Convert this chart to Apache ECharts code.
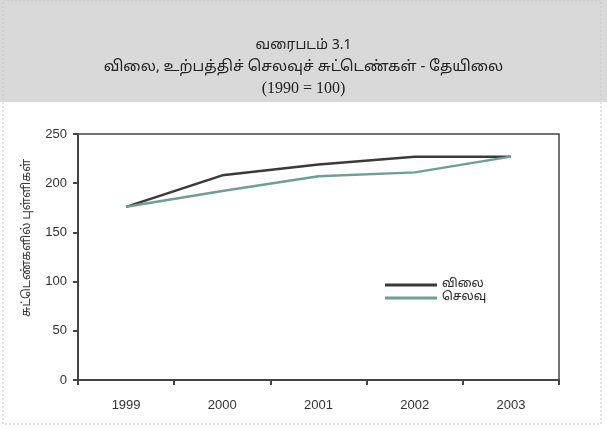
<!DOCTYPE html>
<html>
<head>
<meta charset="utf-8">
<script src="https://cdn.jsdelivr.net/npm/echarts@6/dist/echarts.min.js"></script>
<style>html,body{margin:0;padding:0;background:#fff}#c{width:607px;height:432px}</style>
</head>
<body>
<div id="c"></div>
<script>
var titleLines = ['வரைபடம் 3.1', 'விலை, உற்பத்திச் செலவுச் சுட்டெண்கள் - தேயிலை', '(1990 = 100)'];
var yAxisName = 'சுட்டெண்களில் புள்ளிகள்';
var categories = ['1999', '2000', '2001', '2002', '2003'];
var seriesNames = ['விலை', 'செலவு'];
var priceValues = [176, 208, 219, 227, 227];
var costValues = [176, 192, 207, 211, 227];
var yTicks = [0, 50, 100, 150, 200, 250];

var chart = echarts.init(document.getElementById('c'));
var tamilFont = '"Noto Sans Tamil", "Lohit Tamil", "Noto Serif Tamil", "DejaVu Serif", serif';
chart.setOption({
  backgroundColor: '#ffffff',
  animation: false,
  graphic: [
    { type: 'rect', shape: { x: 0, y: 0, width: 607, height: 102 }, style: { fill: '#d9d9d9' }, z: -10 },
    { type: 'rect', shape: { x: 3, y: 0, width: 598, height: 424 }, style: { fill: 'none', stroke: '#c8c8c8', lineWidth: 1, lineDash: [2, 2] }, z: -9 },
    { type: 'text', left: 'center', top: 39, style: { text: titleLines[0], font: '14px ' + tamilFont, fill: '#222' } },
    { type: 'text', left: 'center', top: 60, style: { text: titleLines[1], font: '15px ' + tamilFont, fill: '#222' } },
    { type: 'text', left: 'center', top: 81, style: { text: titleLines[2], font: '16px "Liberation Serif", serif', fill: '#222' } },
    { type: 'text', x: 28, y: 238, rotation: Math.PI / 2, style: { text: yAxisName, font: '12px ' + tamilFont, fill: '#333', align: 'center', verticalAlign: 'middle' } }
  ],
  legend: {
    orient: 'vertical',
    left: 380,
    top: 274,
    itemWidth: 52,
    itemHeight: 3,
    itemGap: 1,
    icon: 'rect',
    textStyle: { fontFamily: tamilFont, fontSize: 12, color: '#222' },
    data: seriesNames
  },
  grid: {
    left: 78, right: 48, top: 134, bottom: 52,
    show: true, borderColor: '#444', borderWidth: 1.5, backgroundColor: 'transparent'
  },
  xAxis: {
    type: 'category',
    data: categories,
    boundaryGap: true,
    axisLine: { lineStyle: { color: '#444', width: 2 } },
    axisTick: { show: true, length: 5, lineStyle: { color: '#444', width: 2 } },
    axisLabel: { margin: 19, fontFamily: 'Liberation Sans, Arial, sans-serif', fontSize: 13, color: '#333' },
    splitLine: { show: false }
  },
  yAxis: {
    type: 'value',
    min: yTicks[0],
    max: yTicks[yTicks.length - 1],
    interval: 50,
    axisLine: { show: true, lineStyle: { color: '#444', width: 2 } },
    axisTick: { show: true, length: 5, lineStyle: { color: '#444', width: 2 } },
    axisLabel: { margin: 11, fontFamily: 'Liberation Sans, Arial, sans-serif', fontSize: 13, color: '#333' },
    splitLine: { show: false }
  },
  series: [
    { name: seriesNames[0], type: 'line', data: priceValues, symbol: 'none', lineStyle: { color: '#3a3a3a', width: 2.5 }, itemStyle: { color: '#3a3a3a' } },
    { name: seriesNames[1], type: 'line', data: costValues, symbol: 'none', lineStyle: { color: '#6f9e93', width: 2.5 }, itemStyle: { color: '#6f9e93' } }
  ]
});
</script>
</body>
</html>
